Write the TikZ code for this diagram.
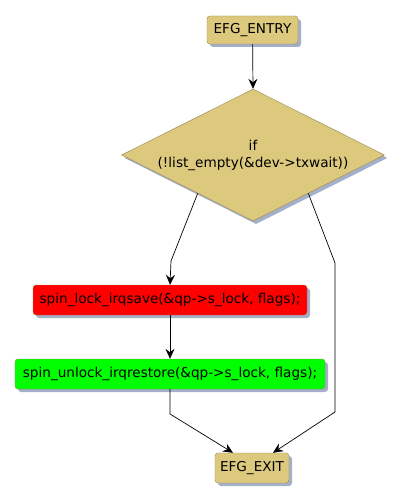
\documentclass[tikz,border=0pt]{standalone}
\usepackage{fontspec}
\setmainfont{DejaVu Sans}
\usetikzlibrary{arrows.meta, positioning, shapes.geometric, shadows, calc}
\definecolor{efgtan}{RGB}{221,201,125}
\definecolor{efgline}{RGB}{152,134,74}
\definecolor{efgshadow}{RGB}{164,176,202}

\begin{document}
\begin{tikzpicture}[x=1pt,y=-1pt,
  font=\fontsize{13.6}{17}\selectfont,
  shade/.style={drop shadow={shadow xshift=3pt,shadow yshift=-3pt,fill=efgshadow,opacity=1}},
  block/.style={draw=efgline,rounded corners=3pt,inner sep=0pt,minimum height=30pt,shade},
  cond/.style={diamond,draw=efgline,fill=efgtan,aspect=2,inner sep=0pt,
    minimum width=263pt,minimum height=132pt,align=center,shade},
  arr/.style={-{Stealth[length=10pt,width=9pt,inset=3.5pt]},line width=0.7pt}]
\useasboundingbox (0,0) rectangle (403,502);
%entry and condition
\node[block,fill=efgtan,minimum width=91pt,minimum height=28pt] (entry) at (252.5,30) {EFG\_ENTRY};
\node[cond] (test) at (253,155) {if\\(!list\_empty(\&dev->txwait))};
%lock and unlock
\node[block,fill=red,minimum width=274pt] (lock) at (170,300) {spin\_lock\_irqsave(\&qp->s\_lock, flags);};
\node[block,fill=green,minimum width=310pt] (unlock) at (170,374) {spin\_unlock\_irqrestore(\&qp->s\_lock, flags);};
%exit
\node[block,fill=efgtan,minimum width=74pt] (exit) at (252,468) {EFG\_EXIT};
%connectors
\coordinate (tl) at ($(test.west)!0.58!(test.south)$);
\coordinate (tr) at ($(test.east)!0.58!(test.south)$);
\draw[arr] (entry) -- (test.north);
\draw[arr] (tl) -- (171,261) -- (lock.north);
\draw[arr] (lock) -- (unlock);
\draw[arr] (unlock.south) -- (170,414) -- ([xshift=-19pt]exit.north);
\draw[arr] (tr) -- (335,263) -- (335,412) -- ([xshift=21pt]exit.north);
\end{tikzpicture}
\end{document}
